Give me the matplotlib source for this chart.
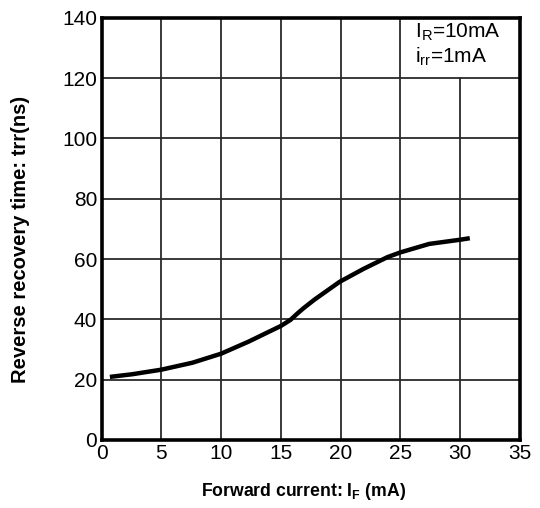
import matplotlib.pyplot as plt
from matplotlib.patches import Rectangle

plt.rcParams['font.family'] = ['Liberation Sans', 'DejaVu Sans']
plt.rcParams['mathtext.fontset'] = 'custom'
plt.rcParams['mathtext.rm'] = 'Liberation Sans'
plt.rcParams['mathtext.bf'] = 'Liberation Sans:bold'

# forward current (mA) vs reverse recovery time (ns)
forward_current = [0.7, 2.6, 5, 7.6, 10, 12.3, 15, 15.8, 16.4, 16.9, 17.8,
                   19.9, 21.9, 23.9, 25, 27.4, 30, 30.8]
recovery_time = [20.9, 21.8, 23.3, 25.6, 28.6, 32.6, 37.8, 39.8, 42.0, 43.7, 46.5,
                 52.4, 56.7, 60.6, 62.2, 65.0, 66.4, 66.9]

x_ticks = [0, 5, 10, 15, 20, 25, 30, 35]
y_ticks = [0, 20, 40, 60, 80, 100, 120, 140]

fig = plt.figure(figsize=(5.4, 5.08), dpi=100)
ax = fig.add_axes([0.188, 0.134, 0.775, 0.831])

ax.plot(forward_current, recovery_time, color='black', linewidth=3.2, zorder=4,
        solid_capstyle='butt', solid_joinstyle='round')

ax.set_xlim(0, 35)
ax.set_ylim(0, 140)
ax.set_xticks(x_ticks)
ax.set_yticks(y_ticks)
ax.grid(True, color='#2a2a2a', linewidth=1.3, zorder=1)
ax.set_axisbelow(True)

# white patch hiding the grid behind the condition label
ax.add_patch(Rectangle((25.1, 120.4), 9.9, 19.6, facecolor='white',
                       edgecolor='none', zorder=2))
ax.text(26.2, 135.2, r'I$_\mathregular{R}$=10mA', fontsize=15, va='center', zorder=5)
ax.text(26.2, 127.0, r'i$_\mathregular{rr}$=1mA', fontsize=15, va='center', zorder=5)

for s in ax.spines.values():
    s.set_linewidth(2.6)
    s.set_zorder(6)

ax.tick_params(direction='out', length=0, labelsize=15, pad=3)
ax.set_xlabel(r'Forward current: I$_\mathbf{F}$ (mA)', fontsize=12.7,
              fontweight='bold', va='center')
ax.set_ylabel('Reverse recovery time: trr(ns)', fontsize=14.5,
              fontweight='bold', va='center')
ax.xaxis.set_label_coords(0.482, -0.121)
ax.yaxis.set_label_coords(-0.193, 0.476)

fig.savefig('out.png', dpi=100)
